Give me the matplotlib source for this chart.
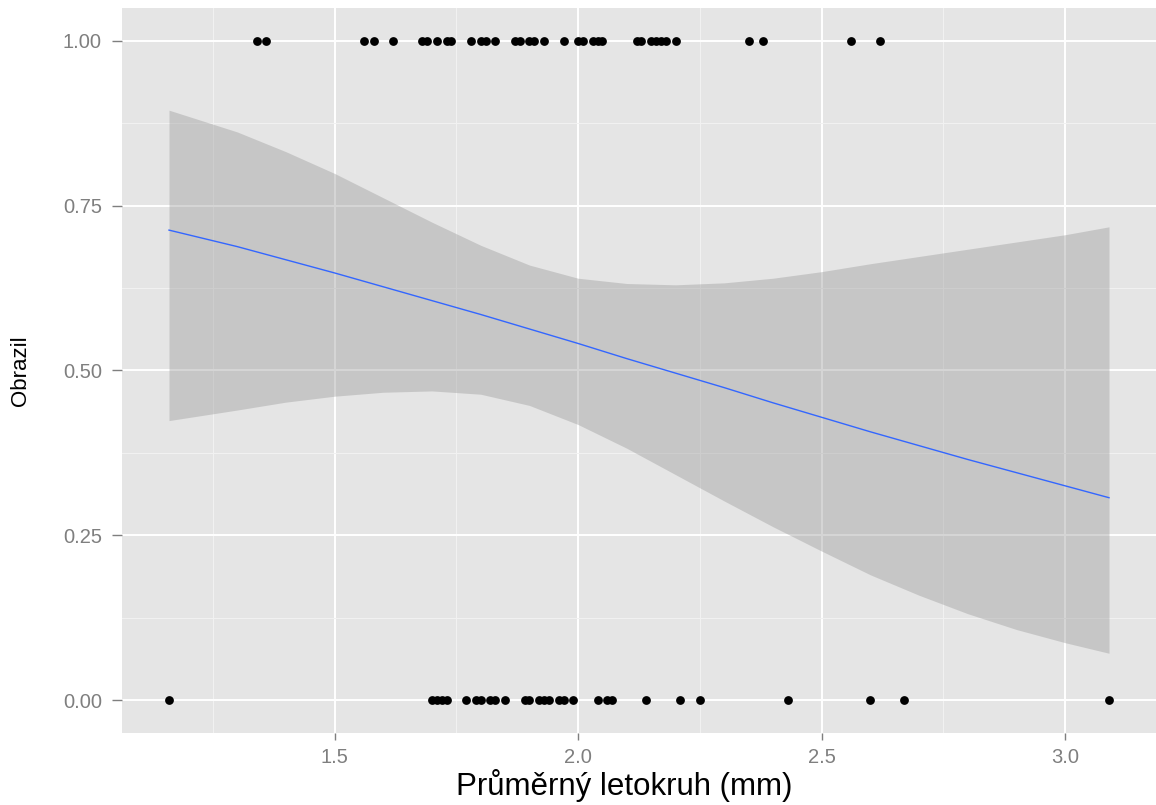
import numpy as np
import matplotlib
matplotlib.use("Agg")
import matplotlib.pyplot as plt
from matplotlib.ticker import MultipleLocator

plt.rcParams["font.family"] = ["Liberation Sans", "DejaVu Sans"]

# ring width (mm) of trees that re-sprouted (obrazil = 1) and did not (0)
x_obrazil = [1.34, 1.36, 1.56, 1.58, 1.62, 1.68, 1.69, 1.71, 1.73, 1.74,
             1.78, 1.80, 1.81, 1.83, 1.87, 1.88, 1.90, 1.91, 1.93, 1.97,
             2.00, 2.01, 2.03, 2.04, 2.05, 2.12, 2.13, 2.15, 2.16, 2.17,
             2.18, 2.20, 2.35, 2.38, 2.56, 2.62]
x_neobrazil = [1.16, 1.70, 1.71, 1.72, 1.73, 1.77, 1.79, 1.80, 1.82, 1.83,
               1.85, 1.89, 1.90, 1.92, 1.93, 1.94, 1.96, 1.97, 1.99, 2.04,
               2.06, 2.07, 2.14, 2.21, 2.25, 2.43, 2.60, 2.67, 3.09]

# logistic smoother: fit and 95% band
smooth_x = [1.16, 1.3, 1.4, 1.5, 1.6, 1.7, 1.8, 1.9, 2.0, 2.1,
            2.2, 2.3, 2.4, 2.5, 2.6, 2.7, 2.8, 2.9, 3.0, 3.09]
smooth_fit = [0.713, 0.688, 0.668, 0.648, 0.627, 0.606, 0.585, 0.563, 0.541, 0.518,
              0.496, 0.474, 0.451, 0.429, 0.407, 0.386, 0.365, 0.345, 0.325, 0.307]
smooth_lo = [0.424, 0.440, 0.452, 0.461, 0.467, 0.469, 0.464, 0.447, 0.418, 0.382,
             0.342, 0.302, 0.263, 0.226, 0.190, 0.159, 0.131, 0.107, 0.087, 0.071]
smooth_hi = [0.895, 0.862, 0.832, 0.799, 0.762, 0.725, 0.690, 0.660, 0.640, 0.632,
             0.630, 0.633, 0.640, 0.650, 0.662, 0.673, 0.684, 0.695, 0.706, 0.718]

x = np.array(x_obrazil + x_neobrazil)
y = np.array([1] * len(x_obrazil) + [0] * len(x_neobrazil), dtype=float)

W, H = 1156, 805
fig = plt.figure(figsize=(W / 100, H / 100), dpi=100)
ax = fig.add_axes([122 / W, 72 / H, 1 - 122 / W, 725 / H])
ax.set_facecolor("#E5E5E5")

ax.fill_between(smooth_x, smooth_lo, smooth_hi, color="#999999", alpha=0.4,
                linewidth=0, zorder=2)
ax.plot(smooth_x, smooth_fit, color="#3366FF", linewidth=1.0, zorder=3)
ax.scatter(x, y, s=40, color="black", linewidths=0, zorder=4)

rng = x.max() - x.min()
ax.set_xlim(x.min() - 0.05 * rng, x.max() + 0.05 * rng)
ax.set_ylim(-0.05, 1.05)
ax.xaxis.set_major_locator(MultipleLocator(0.5))
ax.xaxis.set_minor_locator(MultipleLocator(0.25))
ax.set_yticks([0, 0.25, 0.5, 0.75, 1.0])
ax.set_yticks([0.125, 0.375, 0.625, 0.875], minor=True)
ax.set_yticklabels(["0.00", "0.25", "0.50", "0.75", "1.00"])

ax.grid(which="major", color="white", linewidth=1.4, zorder=1)
ax.grid(which="minor", color="#F2F2F2", linewidth=0.7, zorder=1)
ax.set_axisbelow(True)
for s in ax.spines.values():
    s.set_visible(False)
ax.tick_params(which="major", width=1, color="#7F7F7F",
               labelcolor="#7F7F7F", labelsize=14.5)
ax.tick_params(axis="y", which="major", length=7.5, pad=7)
ax.tick_params(axis="x", which="major", length=5, pad=6)
ax.tick_params(which="minor", length=0)

ax.set_xlabel("Průměrný letokruh (mm)", fontsize=22.5, labelpad=1)
ax.xaxis.label.set_x(0.486)
ax.set_ylabel("Obrazil", fontsize=16)
ax.yaxis.set_label_coords(-0.088, 0.5)

fig.savefig("out.png", dpi=100)
